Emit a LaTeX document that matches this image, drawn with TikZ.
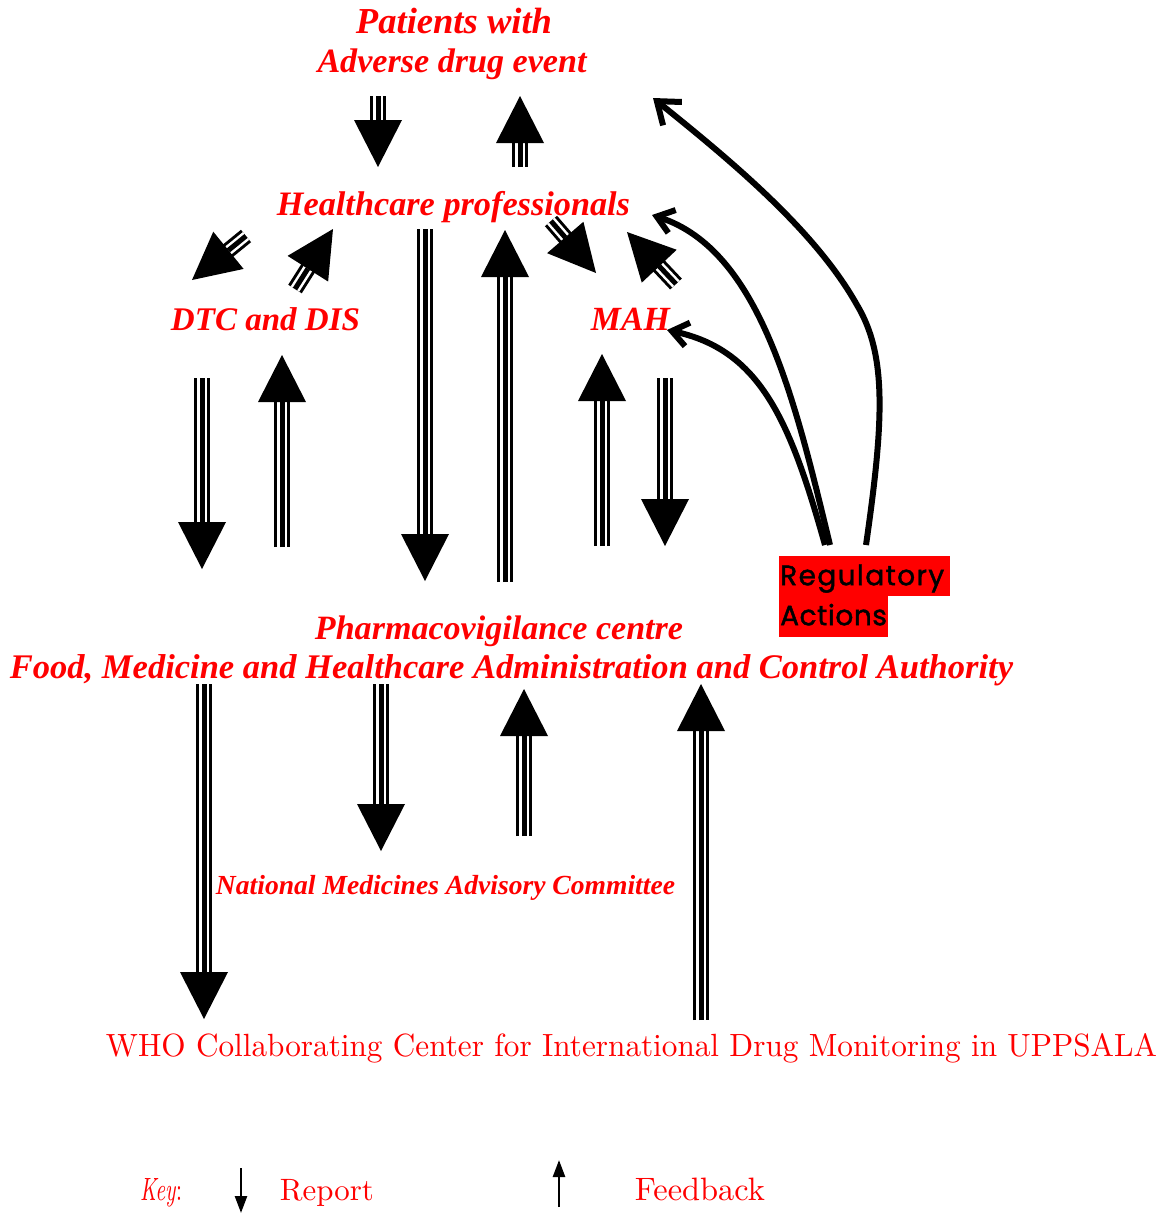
\documentclass[tikz,border=0pt]{standalone}
\usepackage{graphicx}
\usepackage{fontspec}
\newfontfamily\popfont{Poppins}[FakeBold=1.5,LetterSpace=5]
\newfontfamily\tnr{Liberation Serif}
\usetikzlibrary{calc,arrows.meta}
\definecolor{txtred}{RGB}{255,0,0}
\newcommand\fitw[2]{\resizebox{#1pt}{!}{#2}}
\newcommand\tarrow[3]{%
  \coordinate (#1s) at (#2);
  \coordinate (#1e) at (#3);
  \coordinate (#1b) at ($(#1e)!47pt!(#1s)$);
  \draw[shaftout] (#1s) -- ($(#1b)!1pt!(#1e)$);
  \draw[shaftgap] (#1s) -- (#1b);
  \draw[shaftmid] (#1s) -- (#1b);
  \fill ($(#1b)!24pt!90:(#1e)$) -- (#1e) -- ($(#1b)!24pt!-90:(#1e)$) -- cycle;%
}
\begin{document}
\begin{tikzpicture}[x=1pt,y=-1pt,
  lbl/.style={text=txtred, inner sep=0pt, anchor=base, font=\tnr\bfseries\itshape},
  plain/.style={text=txtred, inner sep=0pt, anchor=base, font=\normalfont},
  shaftout/.style={line width=16pt, black},
  shaftgap/.style={line width=10pt, white},
  shaftmid/.style={line width=5pt, black},
  regbox/.style={fill=red, text=black, anchor=north west, inner xsep=1pt, inner ysep=3pt,
    text height=26pt, align=left, font=\popfont\fontsize{28}{34}\selectfont},
  curvbig/.style={line width=6pt, -{Straight Barb[length=20pt,width=30pt]}},
  curvsm/.style={line width=6pt, -{Straight Barb[length=16pt,width=24pt]}},
  keyarr/.style={line width=2.5pt, -{Triangle[length=17pt,width=12pt]}}
]
\useasboundingbox (0,0) rectangle (1165,1216);

% texts
\node[lbl] (pat1) at (454,33) {\fitw{196}{Patients with}};
\node[lbl] (pat2) at (452,72) {\fitw{269}{Adverse drug event}};
\node[lbl] (hcp) at (453.5,215) {\fitw{353}{Healthcare professionals}};
\node[lbl] (dtc) at (265.5,330) {\fitw{189}{DTC and DIS}};
\node[lbl] (mah) at (630.5,330) {\fitw{79}{MAH}};
\node[lbl] (pvc1) at (499,639) {\fitw{368}{Pharmacovigilance centre}};
\node[lbl] (pvc2) at (511.5,678) {\fitw{1003}{Food, Medicine and Healthcare Administration and Control Authority}};
\node[lbl] (nmac) at (445.5,894) {\fitw{459}{National Medicines Advisory Committee}};
\node[plain] (who) at (631.5,1056) {\resizebox{1051pt}{23pt}{WHO Collaborating Center for International Drug Monitoring in UPPSALA}};
\node[plain] (key) at (161,1200) {\resizebox{42pt}{22pt}{\textit{Key}:}};
\node[plain] (rep) at (327,1200) {\fitw{94}{Report}};
\node[plain] (fb) at (700,1200) {\fitw{130}{Feedback}};

% regulatory actions
\node[regbox, text width=169pt, text depth=8pt] (reg1) at (779,556) {Regulatory};
\node[regbox, text width=107pt, text depth=9pt] (reg2) at (779,596) {\addfontfeature{LetterSpace=2}Actions};

% triple arrows
\tarrow{a1}{378,96}{378,167}
\tarrow{a2}{520,167}{520,96}
\tarrow{a3}{246,236}{192,280}
\tarrow{a4}{295,289}{333,229}
\tarrow{a5}{551,221}{596,273}
\tarrow{a6}{676,284}{627,232}
\tarrow{a7}{425,229}{425,581}
\tarrow{a8}{505,582}{505,230}
\tarrow{a9}{202,378}{202,569}
\tarrow{a10}{282,547}{282,355}
\tarrow{a11}{602,546}{602,354}
\tarrow{a12}{665,378}{665,546}
\tarrow{a13}{204,684}{204,1019}
\tarrow{a14}{381,684}{381,851}
\tarrow{a15}{524,836}{524,689}
\tarrow{a16}{701,1020}{701,684}

% curved regulatory arrows
\coordinate (ca) at (866,545);
\coordinate (cb) at (830,545);
\coordinate (cc) at (825,545);
\coordinate (ta) at (653,98);
\coordinate (tb) at (652,215);
\coordinate (tc) at (667,330);
\coordinate (mida) at (857,305);
\draw[curvbig] (ca) .. controls (884,420) and (887,355) .. (mida) .. controls (815,230) and (730,160) .. (ta);
\draw[curvsm] (cb) .. controls (795,400) and (760,250) .. (tb);
\draw[curvsm] (cc) .. controls (790,420) and (760,350) .. (tc);

% key arrows
\coordinate (k1s) at (241,1168);
\coordinate (k1e) at (241,1213);
\coordinate (k2s) at (559,1207);
\coordinate (k2e) at (559,1160);
\draw[keyarr] (k1s) -- (k1e);
\draw[keyarr] (k2s) -- (k2e);
\end{tikzpicture}
\end{document}
